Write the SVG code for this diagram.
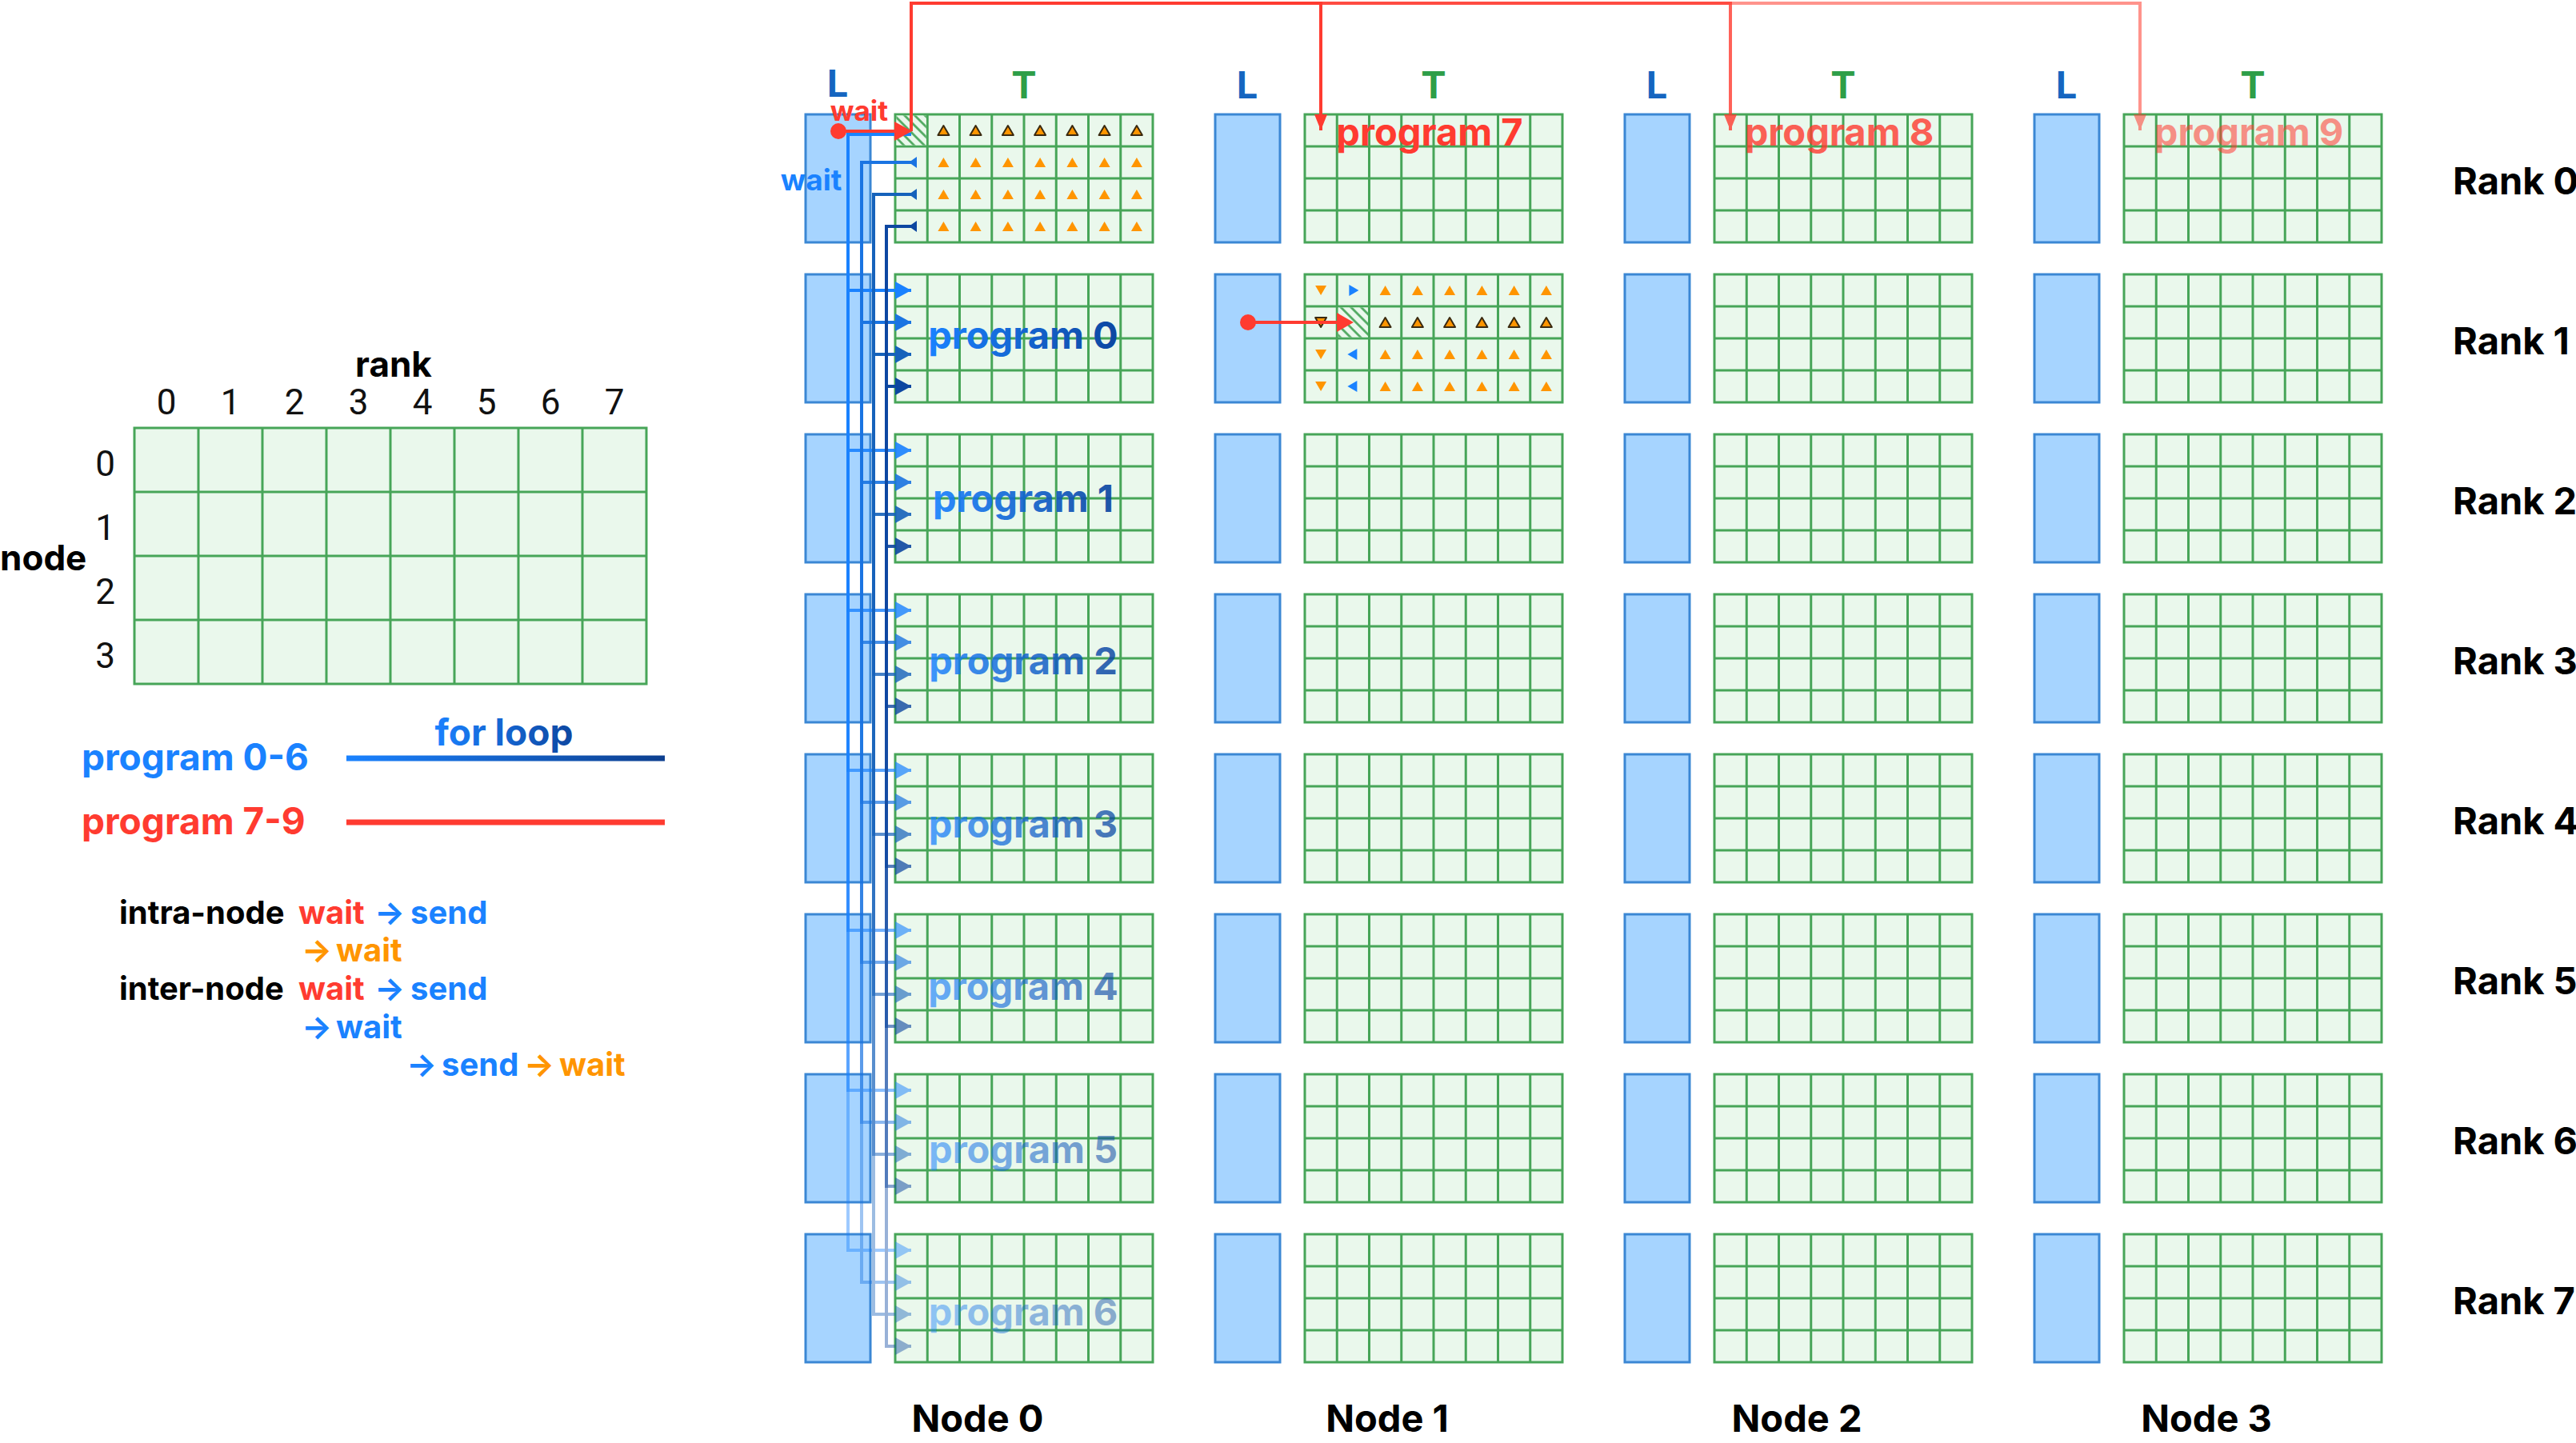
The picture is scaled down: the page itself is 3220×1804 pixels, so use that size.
<svg xmlns="http://www.w3.org/2000/svg" xmlns:xlink="http://www.w3.org/1999/xlink" width="3220" height="1804" viewBox="0 0 3220 1804">
<style>
text{font-family:Inter,"Liberation Sans",sans-serif;font-weight:700}
.tf{fill:#eaf8ec}
.tl{fill:none;stroke:#47a558;stroke-width:3}
.lb{fill:#a6d4ff;stroke:#3b87d4;stroke-width:3}
.lbl{font-size:47px;text-anchor:middle}
.rk{font-size:47px;fill:#000}
.nd{font-size:47px;fill:#000;text-anchor:middle}
.L{fill:#1565c0}
.T{fill:#2e9e48}
.red{fill:#ff3b30}
.blue{fill:#1a82ff}
.org{fill:#ff9500}
.blk{fill:#000}
.dig{font-family:Roboto,Inter,"Liberation Sans",sans-serif;font-weight:400;font-size:44px;fill:#111}
.lg{font-size:40px}
.rs{fill:none;stroke:#ff3b30;stroke-width:4}
.k0{stroke:#1a82ff}.k1{stroke:#1a74e2}.k2{stroke:#1562bb}.k3{stroke:#0d47a1}
.bl{fill:none;stroke-width:4}
</style>
<defs>
<linearGradient id="gtext" x1="0" y1="0" x2="1" y2="0">
<stop offset="0" stop-color="#1a82ff"/><stop offset="1" stop-color="#0d47a1"/>
</linearGradient>
<linearGradient id="gline" gradientUnits="userSpaceOnUse" x1="433" y1="0" x2="831" y2="0">
<stop offset="0" stop-color="#1a82ff"/><stop offset="1" stop-color="#0d3f8f"/>
</linearGradient>
<pattern id="hatch" width="9" height="9" patternUnits="userSpaceOnUse" patternTransform="rotate(-45)">
<rect width="9" height="9" fill="#eaf8ec"/>
<line x1="4.5" y1="0" x2="4.5" y2="9" stroke="#47a558" stroke-width="2.6"/>
</pattern>
<g id="tg">
<rect width="322" height="160" class="tf"/>
<path class="tl" d="M40.25,0V160M80.5,0V160M120.75,0V160M161,0V160M201.25,0V160M241.5,0V160M281.75,0V160M0,40H322M0,80H322M0,120H322"/>
<rect width="322" height="160" class="tl"/>
</g>
<rect id="lb" width="81" height="160" class="lb"/>
<path id="tu" d="M0,-6L7,6L-7,6Z" fill="#ff9500"/>
<path id="tuo" d="M0,-6L7,6L-7,6Z" fill="#ff9500" stroke="#3a2a10" stroke-width="2" stroke-linejoin="round"/>
<path id="td" d="M-7,-6L7,-6L0,6Z" fill="#ff9500"/>
<path id="tdo" d="M-7,-6L7,-6L0,6Z" fill="#ff9500" stroke="#3a2a10" stroke-width="2" stroke-linejoin="round"/>
<path id="br" d="M-5,-7L7,0L-5,7Z" fill="#1a82ff"/>
<path id="bL" d="M5,-7L-7,0L5,7Z" fill="#1a82ff"/>
<marker id="m0" markerUnits="userSpaceOnUse" markerWidth="20" markerHeight="22" refX="20" refY="11" orient="auto" viewBox="0 0 20 22"><path d="M0,0L20,11L0,22Z" fill="#1a82ff"/></marker>
<marker id="m1" markerUnits="userSpaceOnUse" markerWidth="20" markerHeight="22" refX="20" refY="11" orient="auto" viewBox="0 0 20 22"><path d="M0,0L20,11L0,22Z" fill="#1a74e2"/></marker>
<marker id="m2" markerUnits="userSpaceOnUse" markerWidth="20" markerHeight="22" refX="20" refY="11" orient="auto" viewBox="0 0 20 22"><path d="M0,0L20,11L0,22Z" fill="#1562bb"/></marker>
<marker id="m3" markerUnits="userSpaceOnUse" markerWidth="20" markerHeight="22" refX="20" refY="11" orient="auto" viewBox="0 0 20 22"><path d="M0,0L20,11L0,22Z" fill="#0d47a1"/></marker>
<marker id="mr" markerUnits="userSpaceOnUse" markerWidth="20" markerHeight="16" refX="20" refY="8" orient="auto" viewBox="0 0 20 16"><path d="M0,0L20,8L0,16Z" fill="#ff3b30"/></marker>
</defs>
<rect width="3220" height="1804" fill="#fff"/>

<!-- legend -->
<g id="legend">
<g id="legend-grid">
<rect x="168" y="535" width="640" height="320" class="tf"/>
<path class="tl" d="M248,535V855M328,535V855M408,535V855M488,535V855M568,535V855M648,535V855M728,535V855M168,615H808M168,695H808M168,775H808"/>
<rect x="168" y="535" width="640" height="320" class="tl"/>
</g>
<text x="492" y="471" font-size="44" text-anchor="middle">rank</text>
<g>
<text class="dig" x="208" y="518" text-anchor="middle">0</text>
<text class="dig" x="288" y="518" text-anchor="middle">1</text>
<text class="dig" x="368" y="518" text-anchor="middle">2</text>
<text class="dig" x="448" y="518" text-anchor="middle">3</text>
<text class="dig" x="528" y="518" text-anchor="middle">4</text>
<text class="dig" x="608" y="518" text-anchor="middle">5</text>
<text class="dig" x="688" y="518" text-anchor="middle">6</text>
<text class="dig" x="768" y="518" text-anchor="middle">7</text>
<text class="dig" x="144" y="595" text-anchor="end">0</text>
<text class="dig" x="144" y="675" text-anchor="end">1</text>
<text class="dig" x="144" y="755" text-anchor="end">2</text>
<text class="dig" x="144" y="835" text-anchor="end">3</text>
</g>
<text x="0" y="713" font-size="44">node</text>
<text x="630" y="932" font-size="46" text-anchor="middle" fill="url(#gtext)">for loop</text>
<text x="102" y="963" font-size="46" class="blue">program 0-6</text>
<text x="102" y="1043" font-size="46" class="red">program 7-9</text>
<rect x="433" y="944.5" width="398" height="7" fill="url(#gline)"/>
<rect x="433" y="1024.5" width="398" height="7" fill="#ff3b30"/>
<text class="lg" y="1155"><tspan x="149" class="blk">intra-node</tspan><tspan x="373" class="red">wait</tspan><tspan x="468" class="blue">→</tspan><tspan x="513" class="blue">send</tspan></text>
<text class="lg" y="1202"><tspan x="377" class="org">→</tspan><tspan x="420" class="org">wait</tspan></text>
<text class="lg" y="1250"><tspan x="149" class="blk">inter-node</tspan><tspan x="373" class="red">wait</tspan><tspan x="468" class="blue">→</tspan><tspan x="513" class="blue">send</tspan></text>
<text class="lg" y="1298"><tspan x="377" class="blue">→</tspan><tspan x="420" class="blue">wait</tspan></text>
<text class="lg" y="1345"><tspan x="508" class="blue">→</tspan><tspan x="552" class="blue">send</tspan><tspan x="655" class="org">→</tspan><tspan x="699" class="org">wait</tspan></text>
</g>

<!-- headers -->
<g id="headers">
<text x="1047" y="121" class="lbl L">L</text><text x="1280" y="123" class="lbl T">T</text>
<text x="1559" y="123" class="lbl L">L</text><text x="1792" y="123" class="lbl T">T</text>
<text x="2071" y="123" class="lbl L">L</text><text x="2304" y="123" class="lbl T">T</text>
<text x="2583" y="123" class="lbl L">L</text><text x="2816" y="123" class="lbl T">T</text>
<text x="3066" y="243" class="rk">Rank 0</text>
<text x="3066" y="443" class="rk">Rank 1</text>
<text x="3066" y="643" class="rk">Rank 2</text>
<text x="3066" y="843" class="rk">Rank 3</text>
<text x="3066" y="1043" class="rk">Rank 4</text>
<text x="3066" y="1243" class="rk">Rank 5</text>
<text x="3066" y="1443" class="rk">Rank 6</text>
<text x="3066" y="1643" class="rk">Rank 7</text>
<text x="1222" y="1790" class="nd">Node 0</text>
<text x="1734" y="1790" class="nd">Node 1</text>
<text x="2246" y="1790" class="nd">Node 2</text>
<text x="2758" y="1790" class="nd">Node 3</text>
</g>

<!-- nodes -->
<g id="node0">
<g id="n0r0"><use href="#lb" x="1007" y="143"/><use href="#tg" x="1119" y="143"/></g>
<g id="n0r1"><use href="#lb" x="1007" y="343"/><use href="#tg" x="1119" y="343"/></g>
<g id="n0r2"><use href="#lb" x="1007" y="543"/><use href="#tg" x="1119" y="543"/></g>
<g id="n0r3"><use href="#lb" x="1007" y="743"/><use href="#tg" x="1119" y="743"/></g>
<g id="n0r4"><use href="#lb" x="1007" y="943"/><use href="#tg" x="1119" y="943"/></g>
<g id="n0r5"><use href="#lb" x="1007" y="1143"/><use href="#tg" x="1119" y="1143"/></g>
<g id="n0r6"><use href="#lb" x="1007" y="1343"/><use href="#tg" x="1119" y="1343"/></g>
<g id="n0r7"><use href="#lb" x="1007" y="1543"/><use href="#tg" x="1119" y="1543"/></g>
</g>
<g id="node1">
<g id="n1r0"><use href="#lb" x="1519" y="143"/><use href="#tg" x="1631" y="143"/></g>
<g id="n1r1"><use href="#lb" x="1519" y="343"/><use href="#tg" x="1631" y="343"/></g>
<g id="n1r2"><use href="#lb" x="1519" y="543"/><use href="#tg" x="1631" y="543"/></g>
<g id="n1r3"><use href="#lb" x="1519" y="743"/><use href="#tg" x="1631" y="743"/></g>
<g id="n1r4"><use href="#lb" x="1519" y="943"/><use href="#tg" x="1631" y="943"/></g>
<g id="n1r5"><use href="#lb" x="1519" y="1143"/><use href="#tg" x="1631" y="1143"/></g>
<g id="n1r6"><use href="#lb" x="1519" y="1343"/><use href="#tg" x="1631" y="1343"/></g>
<g id="n1r7"><use href="#lb" x="1519" y="1543"/><use href="#tg" x="1631" y="1543"/></g>
</g>
<g id="node2">
<g id="n2r0"><use href="#lb" x="2031" y="143"/><use href="#tg" x="2143" y="143"/></g>
<g id="n2r1"><use href="#lb" x="2031" y="343"/><use href="#tg" x="2143" y="343"/></g>
<g id="n2r2"><use href="#lb" x="2031" y="543"/><use href="#tg" x="2143" y="543"/></g>
<g id="n2r3"><use href="#lb" x="2031" y="743"/><use href="#tg" x="2143" y="743"/></g>
<g id="n2r4"><use href="#lb" x="2031" y="943"/><use href="#tg" x="2143" y="943"/></g>
<g id="n2r5"><use href="#lb" x="2031" y="1143"/><use href="#tg" x="2143" y="1143"/></g>
<g id="n2r6"><use href="#lb" x="2031" y="1343"/><use href="#tg" x="2143" y="1343"/></g>
<g id="n2r7"><use href="#lb" x="2031" y="1543"/><use href="#tg" x="2143" y="1543"/></g>
</g>
<g id="node3">
<g id="n3r0"><use href="#lb" x="2543" y="143"/><use href="#tg" x="2655" y="143"/></g>
<g id="n3r1"><use href="#lb" x="2543" y="343"/><use href="#tg" x="2655" y="343"/></g>
<g id="n3r2"><use href="#lb" x="2543" y="543"/><use href="#tg" x="2655" y="543"/></g>
<g id="n3r3"><use href="#lb" x="2543" y="743"/><use href="#tg" x="2655" y="743"/></g>
<g id="n3r4"><use href="#lb" x="2543" y="943"/><use href="#tg" x="2655" y="943"/></g>
<g id="n3r5"><use href="#lb" x="2543" y="1143"/><use href="#tg" x="2655" y="1143"/></g>
<g id="n3r6"><use href="#lb" x="2543" y="1343"/><use href="#tg" x="2655" y="1343"/></g>
<g id="n3r7"><use href="#lb" x="2543" y="1543"/><use href="#tg" x="2655" y="1543"/></g>
</g>

<!-- cell marks -->
<g id="marks">
<rect x="1120.5" y="144.5" width="37.25" height="37" fill="url(#hatch)"/>
<rect x="1672.75" y="384.5" width="37.25" height="37" fill="url(#hatch)"/>
<use href="#tuo" x="1179.4" y="163"/><use href="#tuo" x="1219.6" y="163"/><use href="#tuo" x="1259.9" y="163"/><use href="#tuo" x="1300.1" y="163"/><use href="#tuo" x="1340.4" y="163"/><use href="#tuo" x="1380.6" y="163"/><use href="#tuo" x="1420.9" y="163"/>
<use href="#tu" x="1179.4" y="203"/><use href="#tu" x="1219.6" y="203"/><use href="#tu" x="1259.9" y="203"/><use href="#tu" x="1300.1" y="203"/><use href="#tu" x="1340.4" y="203"/><use href="#tu" x="1380.6" y="203"/><use href="#tu" x="1420.9" y="203"/>
<use href="#tu" x="1179.4" y="243"/><use href="#tu" x="1219.6" y="243"/><use href="#tu" x="1259.9" y="243"/><use href="#tu" x="1300.1" y="243"/><use href="#tu" x="1340.4" y="243"/><use href="#tu" x="1380.6" y="243"/><use href="#tu" x="1420.9" y="243"/>
<use href="#tu" x="1179.4" y="283"/><use href="#tu" x="1219.6" y="283"/><use href="#tu" x="1259.9" y="283"/><use href="#tu" x="1300.1" y="283"/><use href="#tu" x="1340.4" y="283"/><use href="#tu" x="1380.6" y="283"/><use href="#tu" x="1420.9" y="283"/>
<use href="#td" x="1651.1" y="363"/><use href="#tdo" x="1651.1" y="403"/><use href="#td" x="1651.1" y="443"/><use href="#td" x="1651.1" y="483"/>
<use href="#br" x="1691.4" y="363"/><use href="#bL" x="1691.4" y="443"/><use href="#bL" x="1691.4" y="483"/>
<use href="#tu" x="1731.6" y="363"/><use href="#tu" x="1771.9" y="363"/><use href="#tu" x="1812.1" y="363"/><use href="#tu" x="1852.4" y="363"/><use href="#tu" x="1892.6" y="363"/><use href="#tu" x="1932.9" y="363"/>
<use href="#tuo" x="1731.6" y="403"/><use href="#tuo" x="1771.9" y="403"/><use href="#tuo" x="1812.1" y="403"/><use href="#tuo" x="1852.4" y="403"/><use href="#tuo" x="1892.6" y="403"/><use href="#tuo" x="1932.9" y="403"/>
<use href="#tu" x="1731.6" y="443"/><use href="#tu" x="1771.9" y="443"/><use href="#tu" x="1812.1" y="443"/><use href="#tu" x="1852.4" y="443"/><use href="#tu" x="1892.6" y="443"/><use href="#tu" x="1932.9" y="443"/>
<use href="#tu" x="1731.6" y="483"/><use href="#tu" x="1771.9" y="483"/><use href="#tu" x="1812.1" y="483"/><use href="#tu" x="1852.4" y="483"/><use href="#tu" x="1892.6" y="483"/><use href="#tu" x="1932.9" y="483"/>
</g>

<!-- connectors -->
<g id="connectors">
<g id="p0" opacity="1">
<path class="bl k0" d="M1139,168H1060V363H1139" marker-end="url(#m0)"/>
<path class="bl k1" d="M1143,203H1077V403H1139" marker-end="url(#m1)"/>
<path class="bl k2" d="M1143,243H1092V443H1139" marker-end="url(#m2)"/>
<path class="bl k3" d="M1143,283H1108V483H1139" marker-end="url(#m3)"/>
</g>
<g id="p1" opacity="0.9">
<path class="bl k0" d="M1139,168H1060V563H1139" marker-end="url(#m0)"/>
<path class="bl k1" d="M1143,203H1077V603H1139" marker-end="url(#m1)"/>
<path class="bl k2" d="M1143,243H1092V643H1139" marker-end="url(#m2)"/>
<path class="bl k3" d="M1143,283H1108V683H1139" marker-end="url(#m3)"/>
</g>
<g id="p2" opacity="0.8">
<path class="bl k0" d="M1139,168H1060V763H1139" marker-end="url(#m0)"/>
<path class="bl k1" d="M1143,203H1077V803H1139" marker-end="url(#m1)"/>
<path class="bl k2" d="M1143,243H1092V843H1139" marker-end="url(#m2)"/>
<path class="bl k3" d="M1143,283H1108V883H1139" marker-end="url(#m3)"/>
</g>
<g id="p3" opacity="0.7">
<path class="bl k0" d="M1139,168H1060V963H1139" marker-end="url(#m0)"/>
<path class="bl k1" d="M1143,203H1077V1003H1139" marker-end="url(#m1)"/>
<path class="bl k2" d="M1143,243H1092V1043H1139" marker-end="url(#m2)"/>
<path class="bl k3" d="M1143,283H1108V1083H1139" marker-end="url(#m3)"/>
</g>
<g id="p4" opacity="0.6">
<path class="bl k0" d="M1139,168H1060V1163H1139" marker-end="url(#m0)"/>
<path class="bl k1" d="M1143,203H1077V1203H1139" marker-end="url(#m1)"/>
<path class="bl k2" d="M1143,243H1092V1243H1139" marker-end="url(#m2)"/>
<path class="bl k3" d="M1143,283H1108V1283H1139" marker-end="url(#m3)"/>
</g>
<g id="p5" opacity="0.5">
<path class="bl k0" d="M1139,168H1060V1363H1139" marker-end="url(#m0)"/>
<path class="bl k1" d="M1143,203H1077V1403H1139" marker-end="url(#m1)"/>
<path class="bl k2" d="M1143,243H1092V1443H1139" marker-end="url(#m2)"/>
<path class="bl k3" d="M1143,283H1108V1483H1139" marker-end="url(#m3)"/>
</g>
<g id="p6" opacity="0.42">
<path class="bl k0" d="M1139,168H1060V1563H1139" marker-end="url(#m0)"/>
<path class="bl k1" d="M1143,203H1077V1603H1139" marker-end="url(#m1)"/>
<path class="bl k2" d="M1143,243H1092V1643H1139" marker-end="url(#m2)"/>
<path class="bl k3" d="M1143,283H1108V1683H1139" marker-end="url(#m3)"/>
</g>
<path d="M1136,203L1146,196V210Z" fill="#1a74e2"/>
<path d="M1136,243L1146,236V250Z" fill="#1562bb"/>
<path d="M1136,283L1146,276V290Z" fill="#0d47a1"/>
<g id="p9" opacity="0.55"><path class="rs" d="M1139,164V4H2675V163" marker-end="url(#mr)"/></g>
<g id="p8" opacity="0.8"><path class="rs" d="M1139,164V4H2163V163" marker-end="url(#mr)"/></g>
<g id="p7"><path class="rs" d="M1139,164V4H1651V163" marker-end="url(#mr)"/></g>
<circle cx="1048" cy="164" r="10" fill="#ff3b30"/>
<path d="M1048,164H1120" class="rs"/>
<path d="M1118,152L1140,164L1118,176Z" fill="#ff3b30"/>
<circle cx="1560" cy="403" r="10" fill="#ff3b30"/>
<path d="M1560,403H1674" class="rs"/>
<path d="M1671,391L1692,403L1671,415Z" fill="#ff3b30"/>
</g>

<!-- labels -->
<g id="labels">
<text x="1074" y="151" font-size="35" text-anchor="middle" class="red">wait</text>
<text x="1014" y="238" font-size="37" text-anchor="middle" class="blue">wait</text>
<text x="1279" y="436" class="lbl" fill="url(#gtext)">program 0</text>
<text x="1279" y="640" class="lbl" fill="url(#gtext)" opacity="0.92">program 1</text>
<text x="1279" y="843" class="lbl" fill="url(#gtext)" opacity="0.84">program 2</text>
<text x="1279" y="1047" class="lbl" fill="url(#gtext)" opacity="0.74">program 3</text>
<text x="1279" y="1250" class="lbl" fill="url(#gtext)" opacity="0.64">program 4</text>
<text x="1279" y="1454" class="lbl" fill="url(#gtext)" opacity="0.54">program 5</text>
<text x="1279" y="1657" class="lbl" fill="url(#gtext)" opacity="0.44">program 6</text>
<text x="1787" y="182" class="lbl red">program 7</text>
<text x="2299" y="182" class="lbl red" opacity="0.8">program 8</text>
<text x="2811" y="182" class="lbl red" opacity="0.55">program 9</text>
</g>
</svg>
